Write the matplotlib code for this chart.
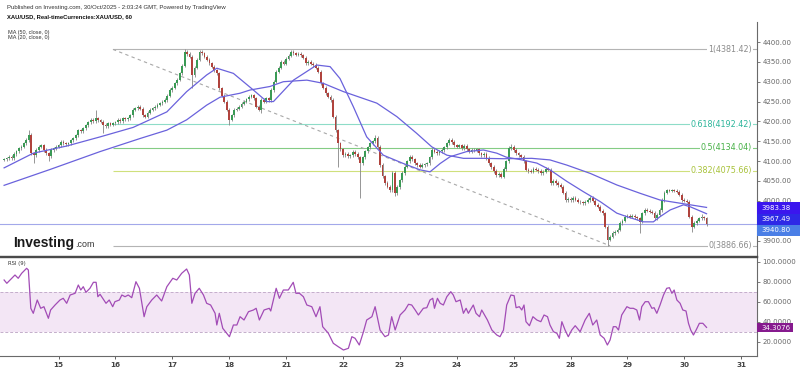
import matplotlib
matplotlib.use('Agg')
import matplotlib.pyplot as plt
from matplotlib.patches import Rectangle
import numpy as np

W, H = 800, 371

def fx(p):
    return p / W

def fy(p):
    return 1 - p / H

# ---------------- data ----------------
closes = [
    4105, 4107, 4111, 4108, 4118, 4125, 4132, 4136, 4145, 4153,
    4166, 4120, 4115, 4128, 4136, 4140, 4128, 4120, 4112, 4128,
    4132, 4136, 4140, 4149, 4145, 4142, 4145, 4152, 4157, 4165,
    4178, 4176, 4183, 4190, 4198, 4204, 4200, 4208, 4203, 4199,
    4191, 4188, 4195, 4192, 4195, 4198, 4204, 4201, 4208, 4205,
    4208, 4215, 4230, 4233, 4237, 4232, 4215, 4212, 4222, 4229,
    4233, 4237, 4242, 4246, 4250, 4254, 4265, 4279, 4285, 4296,
    4305, 4321, 4340, 4376, 4370, 4363, 4317, 4335, 4355, 4376,
    4372, 4363, 4355, 4346, 4338, 4329, 4321, 4283, 4265, 4250,
    4230, 4204, 4215, 4229, 4232, 4237, 4245, 4250, 4256, 4262,
    4266, 4258, 4237, 4230, 4254, 4250, 4258, 4254, 4279, 4300,
    4325, 4335, 4350, 4345, 4358, 4365, 4376, 4372, 4368, 4370,
    4367, 4360, 4347, 4350, 4345, 4342, 4335, 4325, 4296, 4285,
    4271, 4262, 4254, 4212, 4178, 4145, 4130, 4115, 4118, 4112,
    4115, 4124, 4118, 4110, 4095, 4110, 4125, 4135, 4145, 4150,
    4158, 4136, 4090, 4062, 4045, 4036, 4027, 4070, 4019, 4035,
    4052, 4070, 4086, 4100, 4111, 4105, 4095, 4090, 4086, 4090,
    4092, 4095, 4110, 4128, 4124, 4120, 4125, 4128, 4135, 4145,
    4153, 4148, 4140, 4136, 4140, 4133, 4138, 4130, 4124, 4128,
    4128, 4130, 4120, 4115, 4118, 4108, 4095, 4085, 4075, 4065,
    4068, 4061, 4080, 4100, 4133, 4136, 4128, 4120, 4115, 4111,
    4100, 4078, 4075, 4073, 4080, 4078, 4075, 4070, 4073, 4080,
    4078, 4045, 4050, 4045, 4040, 4036, 4020, 4002, 4005, 4002,
    4007, 4003, 3998, 3996, 3994, 3998, 4002, 4007, 4000, 3990,
    3985, 3975, 3969, 3935, 3902, 3910, 3919, 3922, 3927, 3944,
    3950, 3960, 3962, 3960, 3963, 3958, 3956, 3947, 3969, 3977,
    3975, 3973, 3970, 3956, 3965, 3977, 4002, 4020, 4027, 4025,
    4027, 4025, 4023, 4015, 4002, 4000, 3998, 3960, 3935, 3944,
    3950, 3956, 3958, 3956, 3940.80,
]
first_open = 4104
wick_high_bars = [10, 37, 73, 79, 116, 150, 205, 268, 282]
wick_high_vals = [4178, 4230, 4382, 4381, 4381, 4165, 4142, 4031, 3968]
wick_low_bars = [12, 18, 40, 76, 91, 104, 135, 144, 158, 244, 257, 278]
wick_low_vals = [4094, 4100, 4170, 4283, 4191, 4222, 4086, 4007, 4012, 3887, 3919, 3922]

ma20_bar = [0, 11.8, 25.3, 38.8, 52.2, 65.8, 73.8, 81.9, 86, 92.7, 100.8, 106.2,
            108.9, 117, 126.4, 131.8, 135.8, 141.2, 146.6, 153.3, 161.4, 168.2,
            172.2, 176.3, 180.3, 187, 193.8, 199.2, 203, 208.6, 215.4, 220.7,
            227.5, 234.2, 241, 247.7, 251.8, 258.5, 262.5, 265.2, 269.3, 274.7,
            277.4, 284]
ma20_val = [4083, 4120, 4138, 4161, 4185, 4224, 4275, 4317, 4334, 4321, 4279, 4250,
            4250, 4304, 4342, 4338, 4308, 4237, 4161, 4115, 4094, 4078,
            4073, 4094, 4111, 4124, 4128, 4120, 4110, 4104, 4095, 4078,
            4049, 4023, 3998, 3969, 3960, 3947, 3947, 3960, 3977, 3990,
            3985, 3967.49]
ma50_bar = [0, 18.6, 38.8, 55, 65.8, 73.8, 81.9, 87.3, 95.4, 99.4, 107.5, 112.9,
            122.4, 129, 137.2, 150.7, 158.8, 166.8, 172.9, 179, 185.7, 193.8,
            201.9, 213.3, 220.7, 227.5, 237, 247.7, 257.1, 265.2, 273.3, 284]
ma50_val = [4039, 4079, 4124, 4157, 4178, 4204, 4241, 4261, 4271, 4279, 4288, 4300,
            4304, 4296, 4275, 4246, 4212, 4170, 4136, 4115, 4107, 4107,
            4106, 4107, 4103, 4090, 4069, 4040, 4019, 4002, 3994, 3983.38]

rsi_bar = [0, 1.1, 3.1, 4.4, 5.7, 7.1, 9.1, 9.8, 10.8, 11.8, 13.4, 14.8, 16.1,
           17.9, 18.8, 20.6, 22.6, 23.9, 25.3, 26.7, 28.7, 30, 31, 32, 33.1,
           34.7, 36.1, 37.2, 37.9, 38.8, 41.2, 42.5, 43.9, 44.8, 46.6, 47.6,
           48.9, 50.2, 51.6, 53.3, 54.7, 56.6, 57.7, 59.7, 61.7, 63.7, 65.8,
           68.2, 69.8, 71.8, 73.8, 74.9, 75.9, 77.2, 78.9, 80.6, 81.9, 83.5,
           85.3, 86, 87, 88.4, 90, 91.1, 92.7, 94.1, 95.4, 97, 98.8, 100.8,
           101.9, 103.2, 105.1, 107.2, 107.8, 110, 111.3, 112.9, 114.9, 116.9,
           118, 119.4, 121, 122.4, 124.4, 126.1, 127.7, 128.8, 131.1, 133.1,
           135.1, 137.2, 139.2, 140.6, 141.9, 143.6, 145.3, 146.6, 148.7, 150,
           152, 154, 155.4, 156.7, 158.1, 160.1, 162.1, 163.5, 164.8, 166.2,
           167.5, 169.5, 170.9, 172.2, 173.3, 174, 175.2, 176.3, 177.6, 179,
           180.6, 181.6, 182.7, 184.4, 185.7, 186.8, 187.7, 189.7, 190.8, 192.2,
           193.1, 195.4, 197.2, 199.2, 200.5, 201.9, 203.2, 204.9, 206.2, 207,
           208.3, 209.3, 210.2, 211, 212.4, 213.8, 215.4, 217, 218.3, 219.7,
           220.7, 222.1, 223.5, 224.5, 225.5, 226.8, 228.1, 229.5, 230.9, 232.9,
           234.9, 236.6, 238, 239.6, 241, 242.6, 243.9, 245, 246.3, 247.4,
           248.4, 249.7, 251.8, 253.1, 254.4, 255.8, 256.9, 257.8, 259.2, 260.5,
           261.9, 262.8, 263.9, 265.2, 266.6, 267.9, 269, 270, 270.9, 272,
           273.3, 274.4, 275.7, 276.7, 277.6, 278.7, 279.8, 281.1, 282.5, 284]
rsi_val = [81.7, 78.4, 83.4, 86.7, 83.4, 88.4, 93.4, 91.7, 53.4, 48.4, 61.7, 53.4, 55,
           43.4, 51.7, 56.7, 61.7, 63.4, 58.4, 66.7, 68.4, 76.7, 71.7, 75, 69.4,
           73.4, 79.4, 79.4, 65, 67.4, 58.4, 61.7, 55, 60, 61.7, 66.7,
           65, 66.7, 64, 80, 73.4, 45, 55, 61.7, 66.7, 60.7, 75,
           83.4, 81.7, 88.4, 92.7, 86.7, 58.4, 68.4, 73.4, 66.7, 58.4, 56.7,
           48.4, 36.7, 48.4, 33.4, 28.4, 25, 36.7, 36.7, 45, 41.7, 50, 51.7,
           53.4, 41.7, 51.7, 53.4, 50.7, 73.4, 63.4, 71.7, 71.7, 79.4,
           68.4, 68.4, 65, 56.7, 55, 45, 55, 35, 28.4, 18.4,
           15, 11.7, 13.4, 25, 23.4, 16.7, 30, 41.7, 45, 55,
           31.7, 25, 26.7, 45, 31.7, 46.7, 51.7, 57.4, 56.7, 51.7,
           46.7, 53.4, 54, 61.7, 63.4, 53.4, 63.4, 58.4, 56.7, 65,
           70, 66.7, 60, 61.7, 48.4, 53.4, 48.4, 56.7, 48.4, 45,
           51.7, 41.7, 31.7, 26.7, 25, 31.7, 56.7, 66.7, 66, 54,
           55, 51.7, 56.7, 40, 36, 45, 41.7, 40, 46.7, 45,
           36.7, 30, 28.4, 23.4, 40, 31.7, 25, 31.7, 36, 30,
           41.7, 48.4, 36.7, 41.7, 26.7, 23.4, 16.7, 21.7, 35, 35,
           31.7, 46.7, 55, 53.4, 53.4, 51.7, 41.7, 55, 60, 60,
           53.4, 54, 48.4, 56.7, 66.7, 73.4, 74, 68.4, 71.7, 61.7,
           58.4, 51.7, 50.7, 38.4, 31.7, 26.7, 31.7, 38.4, 38.4, 34.3076]

day_tick_bar = [22, 45, 68, 91, 114, 137, 160, 183, 206, 229, 252, 275, 298]
day_tick_label = ['15', '16', '17', '18', '21', '22', '23', '24', '25', '28', '29', '30', '31']

price_ticks = [3900, 3950, 4000, 4050, 4100, 4150, 4200, 4250, 4300, 4350, 4400]
price_hidden = [3950]          # covered by the value boxes on the axis
rsi_ticks = [20, 40, 60, 80, 100]

fib_ratio = ['1', '0.618', '0.5', '0.382', '0']
fib_level = [4381.42, 4192.42, 4134.04, 4075.66, 3886.66]
fib_line_color = ['#b4b4b4', '#8edcc8', '#84cc84', '#cfe07c', '#b4b4b4']
fib_text_color = ['#8c8c8c', '#2bb59a', '#46b046', '#a8c23a', '#8c8c8c']
fib_start_bar = 44
fib_end_bar = 245

last_close = 3940.80
ma50_last = 3983.38
ma20_last = 3967.49
rsi_last = 34.3076

# ---------------- figure ----------------
plt.rcParams['font.family'] = ['DejaVu Sans']
fig = plt.figure(figsize=(8, 3.71), dpi=100)
fig.patch.set_facecolor('white')

XMIN, XMAX = -1.66, 304.4
ax = fig.add_axes([0, fy(256), fx(757), (256 - 22) / H])
ax.set_xlim(XMIN, XMAX)
ax.set_ylim(3861.0, 4450.4)

n = len(closes)
bars = np.arange(n)
c = np.array(closes, dtype=float)
o = np.concatenate([[first_open], c[:-1]])
hi = np.maximum(o, c) + 4
lo = np.minimum(o, c) - 4
for b, v in zip(wick_high_bars, wick_high_vals):
    hi[b] = v
for b, v in zip(wick_low_bars, wick_low_vals):
    lo[b] = v
up = c >= o
ax.vlines(bars, lo, hi, color='#858585', lw=0.6, zorder=2)
body_h = np.maximum(np.abs(c - o), 0.8)
ax.bar(bars[up], body_h[up], bottom=np.minimum(o, c)[up], width=0.72,
       color='#3a9a55', edgecolor='none', zorder=3)
ax.bar(bars[~up], body_h[~up], bottom=np.minimum(o, c)[~up], width=0.72,
       color='#b0433d', edgecolor='none', zorder=3)

# fib lines and labels
for r, lev, lc, tc in zip(fib_ratio, fib_level, fib_line_color, fib_text_color):
    ax.hlines(lev, fib_start_bar, XMAX, color=lc, lw=0.8, zorder=1)
    ax.text(302.4, lev, f'{r}({lev:.2f})', ha='right', va='center', color=tc,
            fontsize=5.8, zorder=4,
            bbox=dict(boxstyle='square,pad=0.1', fc='white', ec='none'))
ax.plot([fib_start_bar, fib_end_bar], [fib_level[0], fib_level[-1]],
        ls=(0, (3, 3)), color='#a8a8a8', lw=0.8, zorder=1)

ax.axhline(last_close, color='#a3a8ea', lw=0.8, zorder=1)

ax.plot(ma50_bar, ma50_val, color='#6a62dc', lw=0.9, zorder=4)
ax.plot(ma20_bar, ma20_val, color='#6a62dc', lw=0.9, zorder=4)

ax.yaxis.tick_right()
ax.set_yticks(price_ticks)
ax.set_yticklabels(['' if v in price_hidden else f'{v:.2f}' for v in price_ticks])
ax.tick_params(axis='y', labelsize=5, colors='#666666', length=2, pad=2, width=0.6)
ax.tick_params(axis='x', bottom=False, labelbottom=False)
for s in ['top', 'left']:
    ax.spines[s].set_visible(False)
ax.spines['right'].set_color('#6a6a6a')
ax.spines['right'].set_linewidth(0.8)
ax.spines['bottom'].set_color('#4a4a4a')
ax.spines['bottom'].set_linewidth(1.0)

# ---------------- RSI pane ----------------
rax = fig.add_axes([0, fy(356), fx(757), (356 - 257) / H])
rax.set_xlim(XMIN, XMAX)
rax.set_ylim(5.7, 104.7)
rax.axhspan(30, 70, color='#f3e6f5', lw=0, zorder=0)
rax.axhline(70, color='#c4aecb', lw=0.7, ls=(0, (3, 2)), zorder=1)
rax.axhline(30, color='#c4aecb', lw=0.7, ls=(0, (3, 2)), zorder=1)
rax.plot(rsi_bar, rsi_val, color='#a24cb6', lw=0.9, zorder=3)
rax.yaxis.tick_right()
rax.set_yticks(rsi_ticks)
rax.set_yticklabels([f'{v:.4f}' for v in rsi_ticks])
rax.tick_params(axis='y', labelsize=5, colors='#666666', length=2, pad=2, width=0.6)
rax.set_xticks(day_tick_bar)
rax.set_xticklabels(day_tick_label, fontweight='bold')
rax.tick_params(axis='x', labelsize=5.2, colors='#444444', length=2, pad=2, width=0.6)
rax.spines['left'].set_visible(False)
rax.spines['top'].set_color('#4a4a4a')
rax.spines['top'].set_linewidth(1.0)
rax.spines['right'].set_color('#6a6a6a')
rax.spines['right'].set_linewidth(0.8)
rax.spines['bottom'].set_color('#6a6a6a')
rax.spines['bottom'].set_linewidth(0.8)
rax.text(0.01, 0.93, 'RSI (9)', transform=rax.transAxes, fontsize=3.8,
         color='#333333', va='center', ha='left')

# ---------------- value boxes ----------------
def value_box(y0, y1, col, txt, x1=800):
    fig.patches.append(Rectangle((fx(757), fy(y1)), fx(x1 - 757), (y1 - y0) / H,
                                 transform=fig.transFigure, fc=col, ec='none',
                                 zorder=5))
    fig.text(fx(761), fy((y0 + y1) / 2), txt, color='white', fontsize=5,
             va='center', ha='left', zorder=6)

value_box(202.3, 213.6, '#3b16ee', f'{ma50_last:.2f}')
value_box(213.6, 224.8, '#2e29e6', f'{ma20_last:.2f}')
value_box(224.8, 236.0, '#4b7fe6', f'{last_close:.2f}')
value_box(323.3, 332.3, '#861a8e', f'{rsi_last:.4f}', x1=793)

# ---------------- header texts ----------------
fig.text(fx(7), fy(7), 'Published on Investing.com, 30/Oct/2025 - 2:03:24 GMT, Powered by TradingView',
         fontsize=4.3, color='#333333', va='center', ha='left', family='Liberation Sans')
fig.text(fx(7), fy(17), 'XAU/USD, Real-timeCurrencies:XAU/USD, 60',
         fontsize=4.2, color='#111111', va='center', ha='left', fontweight='bold',
         family='Liberation Sans')
fig.text(fx(8), fy(32.5), 'MA (50, close, 0)', fontsize=4, color='#333333',
         va='center', ha='left', family='Liberation Sans')
fig.text(fx(8), fy(38), 'MA (20, close, 0)', fontsize=4, color='#333333',
         va='center', ha='left', family='Liberation Sans')

# logo
fig.text(fx(13), fy(243), 'Investing', fontsize=10, fontweight='bold', color='#1a1a1a',
         va='center', ha='left', family='Liberation Sans', zorder=6)
fig.text(fx(75), fy(244.5), '.com', fontsize=6.4, color='#333333',
         va='center', ha='left', family='Liberation Sans', zorder=6)

fig.savefig('out.png', dpi=100, facecolor='white')
